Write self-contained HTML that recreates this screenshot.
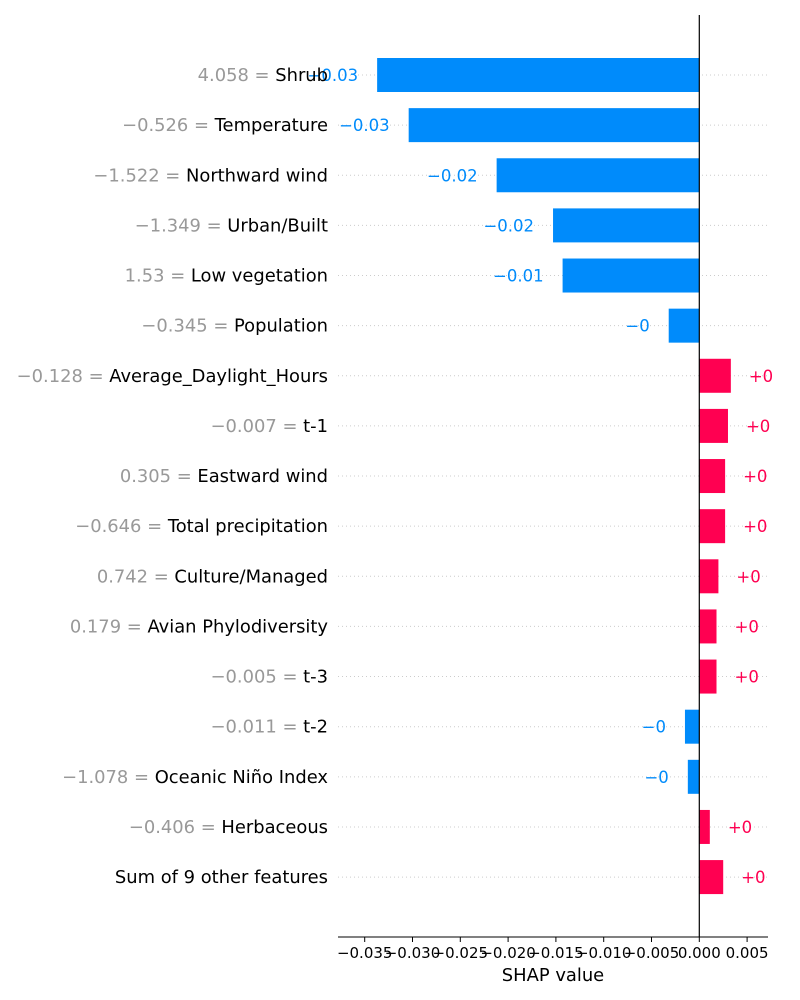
<!DOCTYPE html>
<html><head><meta charset="utf-8"><style>
body{margin:0;background:#fff}
svg{display:block}
text{font-family:"DejaVu Sans","Liberation Sans",sans-serif}
</style></head><body>
<svg id="chart" width="800" height="1000" viewBox="0 0 800 1000" xmlns="http://www.w3.org/2000/svg"></svg>
<script>
const featureValues = ["4.058","\u22120.526","\u22121.522","\u22121.349","1.53","\u22120.345","\u22120.128","\u22120.007","0.305","\u22120.646","0.742","0.179","\u22120.005","\u22120.011","\u22121.078","\u22120.406",""];
const featureNames = ["Shrub","Temperature","Northward wind","Urban/Built","Low vegetation","Population","Average_Daylight_Hours","t-1","Eastward wind","Total precipitation","Culture/Managed","Avian Phylodiversity","t-3","t-2","Oceanic Ni\u00f1o Index","Herbaceous","Sum of 9 other features"];
const shapValues = [-0.0337,-0.0304,-0.0212,-0.0153,-0.0143,-0.0032,0.0033,0.0030,0.0027,0.0027,0.0020,0.0018,0.0018,-0.0015,-0.0012,0.0011,0.0025];
const valueLabels = ["\u22120.03","\u22120.03","\u22120.02","\u22120.02","\u22120.01","\u22120","+0","+0","+0","+0","+0","+0","+0","\u22120","\u22120","+0","+0"];
const tickValues = [-0.035,-0.030,-0.025,-0.020,-0.015,-0.010,-0.005,0.000,0.005];
const tickLabels = ["\u22120.035","\u22120.030","\u22120.025","\u22120.020","\u22120.015","\u22120.010","\u22120.005","0.000","0.005"];

const NS="http://www.w3.org/2000/svg";
const svg=document.getElementById('chart');
const x0=699.3, scale=(699.3-364.7)/0.035;
const xScale=v=>x0+v*scale;
const yScale=i=>75+i*50.13;
const plotL=338, plotR=768, axisY=937;
function el(tag,attrs,parent){const e=document.createElementNS(NS,tag);for(const k in attrs)e.setAttribute(k,attrs[k]);(parent||svg).appendChild(e);return e;}

featureNames.forEach((name,i)=>{
  const y=yScale(i);
  const g=el('line',{x1:plotL,x2:plotR,y1:y,y2:y,stroke:'#ccc','stroke-width':1,'stroke-dasharray':'1,3'});
  
  
});
featureNames.forEach((name,i)=>{
  const y=yScale(i), v=shapValues[i];
  const xa=xScale(Math.min(v,0)), xb=xScale(Math.max(v,0));
  const color=v<0?'#008bfb':'#ff0051';
  const r=el('rect',{x:xa,y:y-17,width:xb-xa,height:34,fill:color});
  
  
  const t=el('text',{x:v<0?xa-19:xb+18,y:y+6,'font-size':16.5,fill:color,'text-anchor':v<0?'end':'start'});
  t.textContent=valueLabels[i];
  
  
  const lab=el('text',{x:328,y:y+6,'font-size':17.9,'text-anchor':'end'});
  
  
  if(featureValues[i]){
    const s=el('tspan',{fill:'#999'},lab);s.textContent=featureValues[i]+' = ';
  }
  const s2=el('tspan',{fill:'#000'},lab);s2.textContent=name;
});
const vl=el('line',{x1:x0,x2:x0,y1:15,y2:axisY,stroke:'#000','stroke-width':1.2});


const ax=el('line',{x1:plotL,x2:plotR,y1:axisY,y2:axisY,stroke:'#000','stroke-width':1});


tickValues.forEach((v,i)=>{
  const x=xScale(v);
  const tk=el('line',{x1:x,x2:x,y1:axisY,y2:axisY+5,stroke:'#000','stroke-width':1});
  
  
  const t=el('text',{x:x,y:axisY+21,'font-size':15,'text-anchor':'middle',fill:'#000'});
  t.textContent=tickLabels[i];
  
  
});
const xt=el('text',{x:553,y:981,'font-size':17.9,'text-anchor':'middle',fill:'#000'});
xt.textContent='SHAP value';


</script>
</body></html>
